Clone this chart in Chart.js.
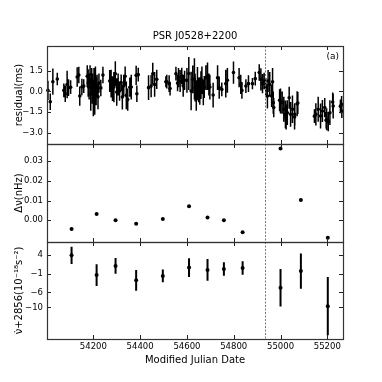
<!DOCTYPE html>
<html>
<head>
<meta charset="utf-8">
<script src="https://cdn.jsdelivr.net/npm/chart.js@4/dist/chart.umd.min.js"></script>
<style>
  html, body { margin: 0; padding: 0; background: #fff; }
  #wrap { position: relative; width: 382px; height: 382px; }
  #wrap canvas { position: absolute; left: 0; }
</style>
</head>
<body>
<div id="wrap">
  <canvas id="c1" width="382" height="150" style="top:0px"></canvas>
  <canvas id="c2" width="382" height="110" style="top:138px"></canvas>
  <canvas id="c3" width="382" height="146" style="top:236px"></canvas>
</div>
<script>
// shared x axis
const xMin = 54002, xMax = 55267;
const xTicks = [54200, 54400, 54600, 54800, 55000, 55200];
const glitchMJD = 54932;

// (a) timing residuals
const resMJD = [54006, 54016, 54027, 54046, 54074, 54080, 54088, 54094, 54103,
  54131, 54138, 54142, 54151, 54159,
  54174, 54178, 54182, 54186, 54189, 54193, 54196, 54200, 54203, 54206, 54209, 54212, 54216, 54220, 54224, 54232, 54241,
  54270, 54276, 54282, 54288, 54294, 54300, 54306, 54312, 54319, 54324, 54330, 54336, 54341, 54347, 54356, 54362,
  54383, 54386, 54392,
  54436, 54447, 54454, 54462, 54471,
  54510, 54514, 54524, 54528,
  54553, 54560, 54564, 54571, 54578, 54584, 54590, 54600, 54608, 54618,
  54625, 54632, 54635, 54640, 54645, 54650, 54655, 54660, 54664, 54670, 54674, 54681, 54688, 54694, 54698, 54712,
  54731, 54738, 54749, 54766, 54773, 54799, 54823, 54830, 54835, 54852, 54863, 54880, 54892, 54909, 54916, 54923,
  54930, 54937, 54944, 54947, 54954, 54962, 54966, 54969, 54971,
  54996, 55000, 55007, 55014, 55021, 55024, 55029, 55037, 55043, 55051, 55060, 55061, 55071, 55074,
  55145, 55151, 55161, 55171, 55179, 55189, 55195, 55197, 55204, 55211, 55223, 55225, 55256, 55261, 55262];
const resVal = [0.07, -0.75, 0.70, 0.90, 0.07, -0.17, 0.50, 0.27, 0.30,
  1.04, 1.18, -0.34, 0.31, 0.38,
  1.1, 0.6, 0.3, 1.2, -0.2, 0.8, 0.2, -0.5, 0.5, -0.3, 0.9, 0.0, 0.4, -0.4, 0.6, 0.25, 1.18,
  0.75, 0.56, 0.2, 0.31, 1.28, -0.05, 0.5, 0.02, 0.63, -0.41, 0.4, 1.1, -0.29, -0.60, 0.3, 0.31,
  1.16, -0.17, 1.21,
  0.27, 0.38, 1.28, 0.50, 0.87,
  0.7, 0.70, 0.56, 0.2,
  1.28, 0.6, 0.99, 0.75, 1.11, 0.4, 0.80, 0.80, 1.3, 0.02,
  0.87, 0.9, 0.27, -0.3, 0.56, 0.1, 0.02, 0.45, 0.80, -0.1, 0.31, 0.99, 1.10, 0.5, 0.31, -0.27,
  0.99, 0.27, 0.14, 0.56, 0.80, 1.36, 0.99, 0.50, 0.07, 0.38, 0.56, 0.56, 0.92, 1.36, 0.87, 0.56,
  0.75, 0.27, -0.34, 0.75, 0.50, -0.34, 0.70, -0.82, -1.18,
  -0.65, -0.70, -0.82, -1.30, -1.67, -1.86, -1.55, -0.46, -1.67, -1.30, -1.86, -1.67, -0.90, -0.85,
  -1.80, -1.67, -1.30, -1.79, -1.43, -1.18, -2.10, -2.03, -2.20, -1.55, -0.78, -1.07, -1.09, -0.94, -1.43];
const resErr = [0.7, 0.6, 0.95, 0.45, 0.5, 0.6, 1.0, 0.6, 0.5,
  0.7, 0.6, 0.7, 0.6, 0.5,
  0.8, 1.0, 0.9, 0.7, 1.2, 0.9, 1.1, 1.3, 1.2, 1.4, 0.9, 1.0, 0.8, 0.9, 0.7, 0.6, 0.6,
  0.8, 1.0, 0.9, 1.1, 0.9, 1.0, 0.8, 0.7, 0.6, 0.9, 0.8, 0.7, 1.0, 0.8, 0.7, 0.9,
  0.7, 0.6, 0.5,
  0.9, 0.8, 0.8, 0.9, 0.7,
  0.4, 0.5, 0.6, 0.5,
  0.5, 0.6, 0.7, 0.8, 0.6, 0.8, 0.7, 0.9, 1.2, 1.4,
  1.0, 1.5, 1.0, 1.1, 1.2, 0.9, 1.0, 1.0, 1.0, 0.9, 0.8, 0.9, 1.0, 0.8, 0.9, 0.9,
  0.9, 0.8, 0.5, 1.0, 0.9, 0.8, 0.7, 0.7, 0.6, 0.5, 0.6, 0.4, 0.5, 0.6, 0.8, 0.7,
  0.6, 0.7, 0.9, 0.8, 0.9, 0.8, 1.0, 0.8, 0.7,
  0.8, 0.9, 0.8, 0.9, 1.0, 0.9, 0.9, 0.8, 0.9, 1.0, 0.9, 0.8, 0.9, 0.8,
  0.5, 0.8, 0.9, 0.9, 0.8, 0.7, 0.6, 0.8, 0.7, 0.9, 0.7, 0.9, 0.5, 0.6, 0.5];
const resTicks = [-3.0, -1.5, 0.0, 1.5];

// (b) frequency jumps and (c) nu-dot offsets, one value per fit epoch
const fitMJD = [54107, 54214, 54295, 54383, 54497, 54609, 54688, 54758, 54838, 55000, 55087, 55202];
const dNu = [-0.0044, 0.0032, 0.0000, -0.0017, 0.0007, 0.0071, 0.0014, 0.0000, -0.0061, 0.0363, 0.0102, -0.0088];
const nuDot = [3.9, -1.35, 1.07, -2.77, -1.6, 0.65, 0.0, 0.28, 0.54, -4.72, -0.28, -9.65];
const nuDotErr = [2.3, 2.9, 2.1, 2.75, 1.7, 2.5, 2.9, 1.8, 1.8, 5.0, 4.7, 7.75];
const dNuTicks = [0.00, 0.01, 0.02, 0.03];
const nuDotTicks = [-10, -6, -1, 4];

const FONT = 'DejaVu Sans';
const minus = s => s.replace('-', '\u2212');

// error bars under the points, frame and inward ticks, glitch line on top
const decor = {
  id: 'decor',
  beforeDatasetsDraw(chart) {
    const err = chart.options.plugins.decor.err;
    if (!err) return;
    const {ctx, scales: {x, y}} = chart;
    const pts = chart.data.datasets[0].data;
    ctx.save();
    ctx.strokeStyle = '#000';
    ctx.lineWidth = chart.options.plugins.decor.barWidth;
    ctx.beginPath();
    pts.forEach((p, i) => {
      const px = x.getPixelForValue(p.x);
      ctx.moveTo(px, y.getPixelForValue(p.y - err[i]));
      ctx.lineTo(px, y.getPixelForValue(p.y + err[i]));
    });
    ctx.stroke();
    ctx.restore();
  },
  afterDraw(chart) {
    const {ctx, chartArea: a, scales: {x, y}} = chart;
    const o = chart.options.plugins.decor;
    ctx.save();
    // glitch epoch
    const gx = Math.round(x.getPixelForValue(glitchMJD)) + 0.5;
    ctx.strokeStyle = '#777';
    ctx.lineWidth = 1;
    ctx.setLineDash([2, 1.5]);
    ctx.beginPath();
    ctx.moveTo(gx, a.top);
    ctx.lineTo(gx, a.bottom);
    ctx.stroke();
    ctx.setLineDash([]);
    // ticks
    ctx.strokeStyle = '#222';
    ctx.lineWidth = 1;
    ctx.beginPath();
    x.ticks.forEach(t => {
      const px = Math.round(x.getPixelForValue(t.value)) + 0.5;
      ctx.moveTo(px, a.top); ctx.lineTo(px, a.top + 4);
      ctx.moveTo(px, a.bottom); ctx.lineTo(px, a.bottom - 4);
    });
    y.ticks.forEach(t => {
      const py = Math.round(y.getPixelForValue(t.value)) + 0.5;
      ctx.moveTo(a.left, py); ctx.lineTo(a.left + 4, py);
      ctx.moveTo(a.right, py); ctx.lineTo(a.right - 4, py);
    });
    ctx.stroke();
    // frame
    ctx.strokeStyle = '#333';
    ctx.lineWidth = 1.2;
    ctx.strokeRect(Math.round(a.left) + 0.5, Math.round(a.top) + 0.5,
      Math.round(a.right - a.left), Math.round(a.bottom - a.top));
    if (o.tag) {
      ctx.fillStyle = '#000';
      ctx.font = '9px ' + FONT;
      ctx.textAlign = 'right';
      ctx.textBaseline = 'middle';
      ctx.fillText(o.tag, a.right - 4, a.top + 11);
    }
    ctx.restore();
  }
};

function makeChart(id, cfg) {
  const data = cfg.xs.map((v, i) => ({x: v, y: cfg.ys[i]}));
  return new Chart(document.getElementById(id), {
    type: 'scatter',
    data: {
      datasets: [{
        data: data,
        backgroundColor: '#000',
        borderColor: '#000',
        pointRadius: cfg.radius,
        pointHoverRadius: cfg.radius,
        borderWidth: 0
      }]
    },
    options: {
      responsive: false,
      animation: false,
      devicePixelRatio: 1,
      clip: false,
      layout: {padding: {left: 0, right: 39, top: cfg.padTop, bottom: cfg.padBottom}},
      plugins: {
        legend: {display: false},
        tooltip: {enabled: false},
        title: cfg.title ? {
          display: true, text: cfg.title, color: '#000', fullSize: false,
          font: {family: FONT, size: 10, weight: 'normal'},
          padding: {top: 30, bottom: 4}
        } : {display: false},
        decor: {err: cfg.err, barWidth: cfg.barWidth, tag: cfg.tag}
      },
      scales: {
        x: {
          type: 'linear', min: xMin, max: xMax,
          afterBuildTicks: s => { s.ticks = xTicks.map(v => ({value: v})); },
          afterFit: s => {
            s.height = cfg.xLabels ? 31 : 0;
            s.paddingLeft = 0; s.paddingRight = 0;
          },
          grid: {display: false, drawTicks: false},
          border: {display: false},
          ticks: {
            display: cfg.xLabels, padding: 3, color: '#000',
            font: {family: FONT, size: 8.5},
            callback: v => String(v)
          },
          title: cfg.xLabels ? {
            display: true, text: 'Modified Julian Date', color: '#000',
            font: {family: FONT, size: 10}, padding: {top: 2, bottom: 4}
          } : {display: false}
        },
        y: {
          type: 'linear', min: cfg.yMin, max: cfg.yMax,
          afterBuildTicks: s => { s.ticks = cfg.yTicks.map(v => ({value: v})); },
          afterFit: s => { s.width = 47; s.paddingTop = 0; s.paddingBottom = 0; },
          grid: {display: false, drawTicks: false},
          border: {display: false},
          ticks: {
            padding: 4, color: '#000',
            font: {family: FONT, size: 8.5},
            callback: v => minus(cfg.fmt(v))
          },
          title: {
            display: true, text: cfg.yTitle, color: '#000',
            font: {family: FONT, size: 10}, padding: {top: 13, bottom: 0}
          }
        }
      }
    },
    plugins: [decor]
  });
}

makeChart('c1', {
  xs: resMJD, ys: resVal, err: resErr, radius: 1.8, barWidth: 1.5,
  yMin: -3.82, yMax: 3.29, yTicks: resTicks, fmt: v => v.toFixed(1),
  yTitle: 'residual(ms)', title: 'PSR J0528+2200', tag: '(a)',
  padTop: 0, padBottom: 6, xLabels: false
});
makeChart('c2', {
  xs: fitMJD, ys: dNu, err: null, radius: 2, barWidth: 1,
  yMin: -0.011, yMax: 0.0386, yTicks: dNuTicks, fmt: v => v.toFixed(2),
  yTitle: '\u0394\u03bd(nHz)', title: null, tag: null,
  padTop: 6, padBottom: 6, xLabels: false
});
makeChart('c3', {
  xs: fitMJD, ys: nuDot, err: nuDotErr, radius: 2, barWidth: 2,
  yMin: -18.4, yMax: 7.46, yTicks: nuDotTicks, fmt: v => String(v),
  yTitle: '\u03bd\u0307+2856(10\u207b\u00b9\u2078s\u207b\u00b2)', title: null, tag: null,
  padTop: 6, padBottom: 12, xLabels: true
});
</script>
</body>
</html>
